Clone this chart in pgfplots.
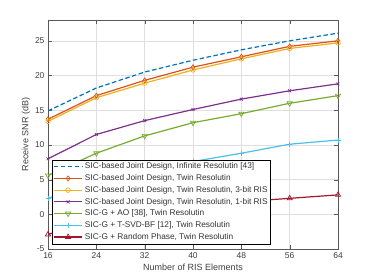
\documentclass[border=0pt]{standalone}
\usepackage{pgfplots}
\pgfplotsset{compat=1.18}
\usepackage{fontspec}
\setmainfont{Liberation Sans}
\definecolor{mblue}{rgb}{0,0.447,0.741}
\definecolor{morange}{rgb}{0.85,0.325,0.098}
\definecolor{myellow}{rgb}{0.929,0.694,0.125}
\definecolor{mpurple}{rgb}{0.494,0.184,0.556}
\definecolor{mgreen}{rgb}{0.466,0.674,0.188}
\definecolor{mcyan}{rgb}{0.301,0.745,0.933}
\definecolor{mred}{rgb}{0.635,0.078,0.184}
\begin{document}
\begin{tikzpicture}
\useasboundingbox (0,0) rectangle (374pt,280pt);
\begin{axis}[
  at={(48pt,31pt)}, anchor=south west,
  scale only axis, width=290pt, height=229pt,
  xmin=16, xmax=64, ymin=-5, ymax=28,
  xtick={16,24,...,64}, ytick={-5,0,...,25},
  grid=major, major grid style={gray!25},
  axis line style={gray!70!black}, tick style={gray!70!black},
  tick align=inside, tick pos=both,
  /pgf/number format/assume math mode=true,
  ticklabel style={font=\fontsize{8.5}{10}\selectfont, text=black!75},
  xlabel={Number of RIS Elements}, ylabel={Receive SNR (dB)},
  label style={font=\fontsize{9}{11}\selectfont, text=black!75},
  xlabel style={yshift=1pt}, ylabel style={yshift=-2pt},
  legend style={at={(0.014,0.022)}, anchor=south west, font=\fontsize{8.3}{9.5}\selectfont,
    draw=black, fill=white, inner sep=1pt, row sep=0.2pt, text=black!80},
  legend cell align=left,
  legend image code/.code={\draw[mark repeat=2,mark phase=2] plot coordinates {(0cm,0cm)(0.5cm,0cm)(1cm,0cm)};},
  every axis plot/.append style={line width=1.2pt},
]
\addplot[mblue, dashed, dash pattern=on 4.5pt off 2.5pt] coordinates {(16,14.9)(24,18.2)(32,20.5)(40,22.2)(48,23.7)(56,25.0)(64,26.1)};
\addlegendentry{SIC-based Joint Design, Infinite Resolutin [43]}
\addplot[morange, mark=diamond, mark size=2.5pt, mark options={solid,line width=0.7pt}] coordinates {(16,13.7)(24,17.1)(32,19.3)(40,21.2)(48,22.7)(56,24.2)(64,25.0)};
\addlegendentry{SIC-based Joint Design, Twin Resolutin}
\addplot[myellow, mark=o, mark size=2.3pt, mark options={solid,line width=0.7pt}] coordinates {(16,13.4)(24,16.8)(32,18.9)(40,20.8)(48,22.4)(56,23.9)(64,24.7)};
\addlegendentry{SIC-based Joint Design, Twin Resolutin, 3-bit RIS}
\addplot[mpurple, mark=x, mark size=2pt, mark options={solid,line width=0.7pt}] coordinates {(16,8.0)(24,11.5)(32,13.5)(40,15.1)(48,16.6)(56,17.8)(64,18.8)};
\addlegendentry{SIC-based Joint Design, Twin Resolutin, 1-bit RIS}
\addplot[mgreen, mark=triangle, mark size=3pt, mark options={solid,line width=0.7pt,rotate=180}] coordinates {(16,5.6)(24,8.8)(32,11.3)(40,13.2)(48,14.5)(56,16.0)(64,17.1)};
\addlegendentry{SIC-G + AO [38], Twin Resolutin}
\addplot[mcyan, mark=+, mark size=2.5pt, mark options={solid,line width=0.7pt}] coordinates {(16,2.3)(24,4.6)(32,6.3)(40,7.6)(48,8.8)(56,10.1)(64,10.7)};
\addlegendentry{SIC-G + T-SVD-BF [12], Twin Resolutin}
\addplot[mred, mark=triangle, mark size=3pt, mark options={solid,line width=0.7pt}] coordinates {(16,-2.9)(24,-0.8)(32,0.4)(40,1.2)(48,1.8)(56,2.3)(64,2.8)};
\addlegendentry{SIC-G + Random Phase, Twin Resolutin}
\end{axis}
\end{tikzpicture}
\end{document}
